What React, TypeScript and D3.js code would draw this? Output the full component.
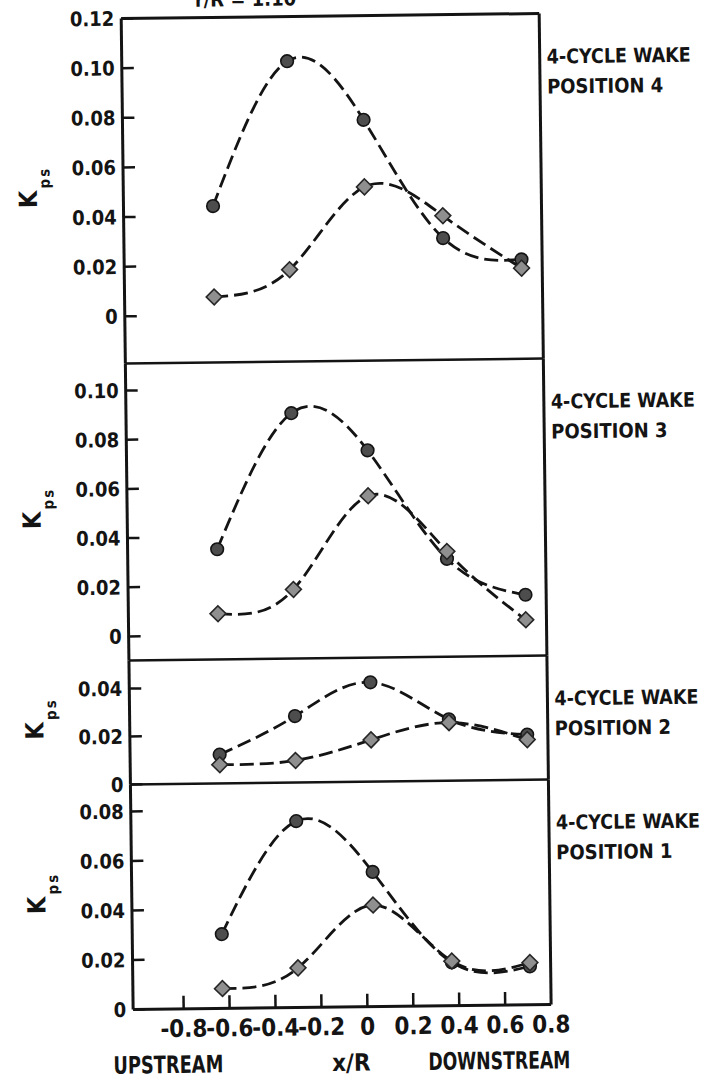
import React from 'react';
import * as d3 from 'd3';

// ---------- data ----------
const xValues = [-0.63, -0.3, 0.03, 0.37, 0.71];
const xTicks = [-0.8, -0.6, -0.4, -0.2, 0, 0.2, 0.4, 0.6, 0.8];

const panelTitles = ['POSITION 4', 'POSITION 3', 'POSITION 2', 'POSITION 1'];
const wakeTitle = '4-CYCLE WAKE';
const chartTitle = 'r/R = 1.10';

const circlesPos4 = [0.044, 0.102, 0.078, 0.03, 0.021];
const diamondsPos4 = [0.0074, 0.018, 0.051, 0.039, 0.0175];
const circlesPos3 = [0.035, 0.09, 0.0745, 0.03, 0.015];
const diamondsPos3 = [0.0088, 0.0183, 0.056, 0.033, 0.0048];
const circlesPos2 = [0.012, 0.0277, 0.0414, 0.0256, 0.0188];
const diamondsPos2 = [0.0078, 0.0092, 0.0174, 0.0242, 0.0167];
const circlesPos1 = [0.03, 0.0753, 0.0544, 0.0175, 0.0155];
const diamondsPos1 = [0.008, 0.016, 0.041, 0.018, 0.017];

const yTicksPos4 = [0, 0.02, 0.04, 0.06, 0.08, 0.1, 0.12];
const yTicksPos3 = [0, 0.02, 0.04, 0.06, 0.08, 0.1];
const yTicksPos2 = [0, 0.02, 0.04];
const yTicksPos1 = [0, 0.02, 0.04, 0.06, 0.08];

const yDomains: [number, number][] = [
  [-0.019, 0.12],
  [-0.0098, 0.111],
  [0, 0.0517],
  [0, 0.0909],
];

// ---------- layout ----------
const W = 709;
const H = 1079;
const LEFT = 127.5;
const RIGHT = 545.5;
const panelRanges: [number, number][] = [
  [16, 361],
  [361, 658],
  [658, 782],
  [782, 1007],
];
const FONT = "'Liberation Sans Narrow', 'Arial Narrow', 'DejaVu Sans Condensed', sans-serif";
const INK = '#141414';

const panels = [
  { circles: circlesPos4, diamonds: diamondsPos4, ticks: yTicksPos4 },
  { circles: circlesPos3, diamonds: diamondsPos3, ticks: yTicksPos3 },
  { circles: circlesPos2, diamonds: diamondsPos2, ticks: yTicksPos2 },
  { circles: circlesPos1, diamonds: diamondsPos1, ticks: yTicksPos1 },
];

const fmtY = (v: number) => (v === 0 ? '0' : v.toFixed(2));
const fmtX = (v: number) => (v === 0 ? '0' : v.toFixed(1));

export default function App() {
  const x = d3.scaleLinear().domain([-1.02, 0.8]).range([LEFT, RIGHT]);
  const diamondPath = d3.symbol().type(d3.symbolSquare).size(125)() as string;

  return (
    <svg
      width={W}
      height={H}
      style={{ position: 'absolute', left: 0, top: 0, background: '#fff' }}
      fontFamily={FONT}
      fontWeight="bold"
    >
      <rect x={0} y={0} width={W} height={H} fill="#fff" />
      <g transform="rotate(-0.69 335 540)">
        <text x={252} y={5} textAnchor="middle" fontSize={20} fill={INK}>
          {chartTitle}
        </text>

        {panels.map((p, i) => {
          const [top, bottom] = panelRanges[i];
          const y = d3.scaleLinear().domain(yDomains[i]).range([bottom, top]);
          const line = d3
            .line<number>()
            .x((_, j) => x(xValues[j]))
            .y((d) => y(d))
            .curve(d3.curveNatural);
          const mid = (top + bottom) / 2;
          return (
            <g key={i}>
              {/* frame */}
              <line x1={LEFT} x2={LEFT} y1={top} y2={bottom} stroke={INK} strokeWidth={3} />
              <line x1={RIGHT} x2={RIGHT} y1={top} y2={bottom} stroke={INK} strokeWidth={3} />
              <line x1={LEFT} x2={RIGHT} y1={top} y2={top} stroke={INK} strokeWidth={i === 0 ? 3 : 2.5} />
              {i === panels.length - 1 && (
                <line x1={LEFT} x2={RIGHT} y1={bottom} y2={bottom} stroke={INK} strokeWidth={3} />
              )}
              {/* y ticks */}
              {p.ticks.map((t) => (
                <g key={t}>
                  <line x1={LEFT} x2={LEFT + 12} y1={y(t)} y2={y(t)} stroke={INK} strokeWidth={2.5} />
                  <text
                    x={LEFT - 7}
                    y={y(t)}
                    dy="0.36em"
                    textAnchor="end"
                    fontSize={20}
                    fill={INK}
                  >
                    {fmtY(t)}
                  </text>
                </g>
              ))}
              {/* y label */}
              <text
                transform={`translate(41,${mid + 16}) rotate(-90)`}
                fontSize={25}
                fill={INK}
              >
                K
                <tspan fontSize={15} dx={2} dy={13}>
                  p
                </tspan>
                <tspan fontSize={15} dx={2} dy={0}>
                  s
                </tspan>
              </text>
              {/* curves */}
              <path
                d={line(p.circles) as string}
                fill="none"
                stroke={INK}
                strokeWidth={2.8}
                strokeDasharray="14 6"
              />
              <path
                d={line(p.diamonds) as string}
                fill="none"
                stroke={INK}
                strokeWidth={2.8}
                strokeDasharray="14 6"
              />
              {/* markers */}
              {p.circles.map((v, j) => (
                <circle
                  key={'c' + j}
                  cx={x(xValues[j])}
                  cy={y(v)}
                  r={6.3}
                  fill="#4d4d4d"
                  stroke={INK}
                  strokeWidth={1.6}
                />
              ))}
              {p.diamonds.map((v, j) => (
                <path
                  key={'d' + j}
                  d={diamondPath}
                  transform={`translate(${x(xValues[j])},${y(v)}) rotate(45)`}
                  fill="#8f8f8f"
                  stroke="#262626"
                  strokeWidth={1.6}
                />
              ))}
              {/* side labels */}
              <text x={RIGHT + 7} y={top + 50} fontSize={20} fill={INK} textLength={144} lengthAdjust="spacingAndGlyphs">
                {wakeTitle}
              </text>
              <text x={RIGHT + 7} y={top + 80} fontSize={20} fill={INK}>
                {panelTitles[i]}
              </text>
            </g>
          );
        })}

        {/* x axis ticks */}
        {xTicks.map((t) => {
          const yb = panelRanges[3][1];
          return (
            <g key={t}>
              {t < 0.8 && (
                <line x1={x(t)} x2={x(t)} y1={yb} y2={yb - 13} stroke={INK} strokeWidth={2.5} />
              )}
              <text x={x(t)} y={yb + 28} textAnchor="middle" fontSize={24} fill={INK}>
                {fmtX(t)}
              </text>
            </g>
          );
        })}
        <text x={162} y={1071} textAnchor="middle" fontSize={24} fill={INK} textLength={110} lengthAdjust="spacingAndGlyphs">
          UPSTREAM
        </text>
        <text x={345} y={1071} textAnchor="middle" fontSize={24} fill={INK}>
          x/R
        </text>
        <text x={493} y={1071} textAnchor="middle" fontSize={24} fill={INK} textLength={142} lengthAdjust="spacingAndGlyphs">
          DOWNSTREAM
        </text>
      </g>
    </svg>
  );
}
